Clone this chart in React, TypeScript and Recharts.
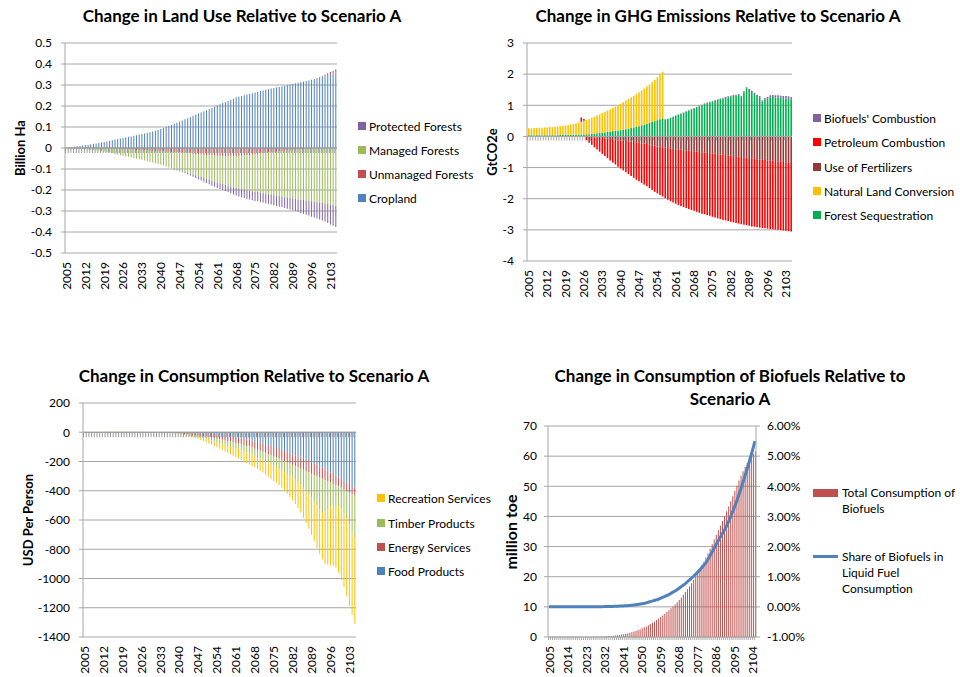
import React from "react";
import { ComposedChart, Bar, Line, XAxis, YAxis, CartesianGrid, ReferenceLine } from "recharts";

const FONT = "Lato, 'Open Sans', sans-serif";
const GRID = "#A6A6A6";

// 2005 .. 2105, one bar per year
const years = Array.from({ length: 101 }, (_, i) => 2005 + i);

// ---- Land use (billion ha)
const cropland = [
  0.000, 0.002, 0.004, 0.006, 0.008, 0.010, 0.012, 0.014, 0.016, 0.018,
  0.020, 0.022, 0.024, 0.026, 0.028, 0.031, 0.034, 0.037, 0.040, 0.042,
  0.045, 0.048, 0.050, 0.053, 0.055, 0.058, 0.061, 0.064, 0.066, 0.069,
  0.072, 0.075, 0.079, 0.082, 0.086, 0.090, 0.095, 0.100, 0.105, 0.110,
  0.115, 0.120, 0.126, 0.131, 0.137, 0.142, 0.148, 0.153, 0.159, 0.164,
  0.170, 0.175, 0.180, 0.186, 0.191, 0.196, 0.202, 0.208, 0.214, 0.219,
  0.225, 0.230, 0.235, 0.240, 0.244, 0.248, 0.251, 0.255, 0.258, 0.261,
  0.264, 0.267, 0.271, 0.274, 0.277, 0.280, 0.283, 0.286, 0.288, 0.291,
  0.294, 0.297, 0.300, 0.302, 0.305, 0.308, 0.311, 0.314, 0.316, 0.319,
  0.322, 0.325, 0.329, 0.332, 0.336, 0.340, 0.344, 0.348, 0.352, 0.356,
  0.360,
];
const unmanaged = [
  0, 0, 0, 0, 0, 0, 0, 0, 0, 0,
  0, 0, 0, 0, 0, -0.001, -0.001, -0.002, -0.002, -0.003,
  -0.004, -0.005, -0.005, -0.006, -0.007, -0.008, -0.009, -0.009, -0.010, -0.011,
  -0.012, -0.013, -0.014, -0.014, -0.015, -0.016, -0.017, -0.018, -0.018, -0.019,
  -0.020, -0.021, -0.022, -0.023, -0.024, -0.025, -0.026, -0.027, -0.028, -0.030,
  -0.031, -0.032, -0.033, -0.034, -0.035, -0.036, -0.037, -0.037, -0.038, -0.038,
  -0.039, -0.039, -0.039, -0.038, -0.038, -0.037, -0.036, -0.035, -0.033, -0.032,
  -0.030, -0.029, -0.027, -0.026, -0.024, -0.022, -0.021, -0.019, -0.018, -0.016,
  -0.015, -0.013, -0.012, -0.010, -0.009, -0.008, -0.007, -0.006, -0.005, -0.004,
  -0.003, -0.002, -0.001, 0, 0.002, 0.004, 0.006, 0.008, 0.010, 0.012,
  0.015,
];
const managed = [
  0, -0.001, -0.002, -0.002, -0.003, -0.004, -0.005, -0.006, -0.007, -0.008,
  -0.010, -0.011, -0.013, -0.015, -0.017, -0.018, -0.021, -0.023, -0.026, -0.028,
  -0.030, -0.032, -0.035, -0.036, -0.038, -0.040, -0.042, -0.045, -0.046, -0.048,
  -0.050, -0.053, -0.055, -0.059, -0.061, -0.064, -0.067, -0.070, -0.074, -0.077,
  -0.080, -0.083, -0.085, -0.088, -0.090, -0.093, -0.096, -0.099, -0.102, -0.104,
  -0.107, -0.110, -0.114, -0.117, -0.121, -0.124, -0.127, -0.131, -0.134, -0.138,
  -0.141, -0.144, -0.148, -0.152, -0.155, -0.159, -0.162, -0.166, -0.170, -0.174,
  -0.178, -0.181, -0.186, -0.189, -0.194, -0.198, -0.201, -0.206, -0.209, -0.214,
  -0.217, -0.221, -0.224, -0.228, -0.231, -0.234, -0.237, -0.240, -0.243, -0.246,
  -0.249, -0.252, -0.255, -0.258, -0.260, -0.262, -0.264, -0.267, -0.270, -0.272,
  -0.275,
];
const protectedForests = [
  0, 0, 0, 0, 0, 0, 0, 0, 0, 0,
  0, 0, 0, 0, 0, 0, 0, 0, 0, 0,
  0, 0, 0, 0, 0, 0, 0, 0, 0, 0,
  0, 0, 0, 0, 0, 0, 0, 0, -0.001, -0.001,
  -0.002, -0.003, -0.004, -0.005, -0.006, -0.007, -0.009, -0.011, -0.013, -0.015,
  -0.017, -0.019, -0.020, -0.022, -0.024, -0.025, -0.026, -0.027, -0.028, -0.029,
  -0.030, -0.032, -0.034, -0.036, -0.038, -0.039, -0.040, -0.041, -0.042, -0.043,
  -0.044, -0.044, -0.045, -0.045, -0.046, -0.046, -0.047, -0.048, -0.049, -0.050,
  -0.050, -0.052, -0.053, -0.055, -0.056, -0.058, -0.060, -0.063, -0.065, -0.068,
  -0.070, -0.073, -0.075, -0.078, -0.080, -0.083, -0.086, -0.090, -0.094, -0.097,
  -0.101,
];
const landTicks = [-0.5, -0.4, -0.3, -0.2, -0.1, 0, 0.1, 0.2, 0.3, 0.4, 0.5];

// ---- GHG emissions (GtCO2e)
const forestSeq = [
  0.04, 0.04, 0.04, 0.04, 0.04, 0.04, 0.04, 0.04, 0.04, 0.04,
  0.04, 0.04, 0.05, 0.05, 0.05, 0.05, 0.05, 0.05, 0.05, 0.06,
  0.06, 0.06, 0.07, 0.07, 0.08, 0.09, 0.10, 0.11, 0.12, 0.13,
  0.15, 0.16, 0.17, 0.18, 0.19, 0.20, 0.22, 0.23, 0.25, 0.27,
  0.29, 0.31, 0.33, 0.36, 0.38, 0.41, 0.43, 0.46, 0.49, 0.52,
  0.55, 0.58, 0.55, 0.57, 0.60, 0.63, 0.67, 0.70, 0.73, 0.76,
  0.80, 0.83, 0.87, 0.90, 0.94, 0.97, 1.00, 1.04, 1.07, 1.09,
  1.12, 1.15, 1.17, 1.20, 1.22, 1.24, 1.26, 1.28, 1.30, 1.31,
  1.33, 1.27, 1.42, 1.55, 1.49, 1.43, 1.36, 1.30, 1.26, 1.12,
  1.18, 1.22, 1.26, 1.27, 1.26, 1.25, 1.24, 1.23, 1.22, 1.21,
  1.18,
];
const landConversion = [
  0.22, 0.22, 0.23, 0.23, 0.24, 0.24, 0.25, 0.25, 0.26, 0.26,
  0.27, 0.28, 0.28, 0.29, 0.30, 0.31, 0.33, 0.35, 0.37, 0.38,
  0.41, 0.44, 0.46, 0.49, 0.52, 0.54, 0.57, 0.60, 0.63, 0.66,
  0.68, 0.71, 0.75, 0.78, 0.82, 0.85, 0.88, 0.92, 0.95, 0.98,
  1.01, 1.05, 1.09, 1.12, 1.16, 1.19, 1.24, 1.29, 1.33, 1.38,
  1.43, 1.50, 0, 0, 0, 0, 0, 0, 0, 0,
  0, 0, 0, 0, 0, 0, 0, 0, 0, 0,
  0, 0, 0, 0, 0, 0, 0, 0, 0, 0,
  0, 0, 0, 0, 0, 0, 0, 0, 0, 0,
  0, 0, 0, 0, 0, 0, 0, 0, 0, 0,
  0,
];
const fertilizers = [
  0, 0, 0, 0, 0, 0, 0, 0, 0, 0,
  0, 0, 0, 0, 0, 0, 0, 0, 0, 0,
  0, 0, -0.01, -0.02, -0.02, -0.03, -0.04, -0.05, -0.05, -0.06,
  -0.07, -0.08, -0.09, -0.10, -0.12, -0.13, -0.14, -0.15, -0.16, -0.17,
  -0.18, -0.19, -0.20, -0.22, -0.23, -0.24, -0.26, -0.28, -0.30, -0.32,
  -0.33, -0.35, -0.36, -0.37, -0.39, -0.40, -0.41, -0.42, -0.43, -0.44,
  -0.45, -0.46, -0.47, -0.48, -0.49, -0.50, -0.51, -0.52, -0.53, -0.54,
  -0.55, -0.56, -0.57, -0.58, -0.59, -0.60, -0.61, -0.62, -0.63, -0.64,
  -0.65, -0.66, -0.67, -0.68, -0.70, -0.71, -0.72, -0.73, -0.74, -0.75,
  -0.76, -0.77, -0.78, -0.78, -0.79, -0.80, -0.81, -0.82, -0.83, -0.84,
  -0.85,
];
const petroleum = [
  0, 0, 0, 0, 0, 0, 0, 0, 0, 0,
  0, 0, 0, 0, 0, 0, 0, 0, 0, 0,
  0.14, 0.06, -0.11, -0.18, -0.25, -0.32, -0.38, -0.44, -0.51, -0.57,
  -0.63, -0.69, -0.75, -0.80, -0.85, -0.90, -0.95, -1.00, -1.05, -1.10,
  -1.15, -1.20, -1.24, -1.28, -1.32, -1.36, -1.40, -1.44, -1.48, -1.51,
  -1.55, -1.58, -1.62, -1.66, -1.69, -1.72, -1.75, -1.78, -1.80, -1.83,
  -1.85, -1.87, -1.89, -1.91, -1.93, -1.95, -1.97, -1.98, -2.00, -2.01,
  -2.03, -2.04, -2.06, -2.07, -2.09, -2.10, -2.11, -2.12, -2.13, -2.14,
  -2.15, -2.16, -2.17, -2.17, -2.17, -2.18, -2.18, -2.18, -2.19, -2.19,
  -2.19, -2.19, -2.19, -2.20, -2.20, -2.20, -2.20, -2.20, -2.20, -2.20,
  -2.20,
];
const biofuelCombustion = [
  0, 0, 0, 0, 0, 0, 0, 0, 0, 0,
  0, 0, 0, 0, 0, 0, 0, 0, 0, 0,
  0, 0, 0, 0, 0, 0, 0, 0, 0, 0,
  0, 0, 0, 0, 0, 0, 0, 0, 0, 0,
  0, 0, 0, 0, 0, 0, 0, 0, 0, 0,
  0, 0, 0, 0, 0, 0, 0.01, 0.01, 0.01, 0.01,
  0.01, 0.01, 0.01, 0.01, 0.01, 0.02, 0.02, 0.02, 0.02, 0.02,
  0.02, 0.02, 0.02, 0.02, 0.02, 0.03, 0.03, 0.03, 0.03, 0.03,
  0.03, 0.03, 0.03, 0.03, 0.03, 0.04, 0.04, 0.04, 0.04, 0.04,
  0.05, 0.05, 0.06, 0.06, 0.06, 0.07, 0.07, 0.07, 0.08, 0.08,
  0.08,
];
const ghgTicks = [-4, -3, -2, -1, 0, 1, 2, 3];

// ---- Consumption (USD per person)
const food = [
  0, 0, 0, 0, 0, 0, 0, 0, 0, 0,
  0, 0, 0, 0, 0, 0, 0, 0, 0, 0,
  0, 0, 0, 0, 0, 0, 0, 0, 0, 0,
  -1, -1, -1, -2, -2, -3, -3, -4, -4, -5,
  -6, -7, -8, -9, -11, -12, -14, -16, -18, -20,
  -22, -24, -26, -28, -30, -33, -36, -39, -42, -45,
  -49, -52, -57, -62, -67, -72, -77, -82, -88, -95,
  -101, -108, -114, -121, -129, -137, -144, -152, -160, -167,
  -175, -182, -190, -197, -205, -212, -222, -233, -243, -254,
  -264, -275, -286, -298, -309, -320, -333, -346, -360, -369,
  -378,
];
const energy = [
  0, 0, 0, 0, 0, 0, 0, 0, 0, 0,
  0, 0, 0, 0, 0, 0, 0, 0, 0, 0,
  0, 0, 0, 0, 0, 0, 0, 0, 0, 0,
  -1, -2, -2, -3, -4, -5, -6, -8, -9, -11,
  -12, -13, -14, -16, -17, -18, -20, -21, -23, -25,
  -26, -28, -30, -32, -33, -35, -37, -39, -41, -43,
  -45, -46, -48, -50, -52, -54, -56, -58, -60, -61,
  -63, -65, -66, -68, -69, -70, -71, -72, -72, -73,
  -74, -75, -76, -78, -79, -80, -78, -77, -75, -73,
  -72, -70, -67, -65, -62, -60, -58, -56, -54, -53,
  -51,
];
const timber = [
  0, 0, 0, 0, 0, 0, 0, 0, 0, 0,
  0, 0, 0, 0, 0, 0, 0, 0, 0, 0,
  0, 0, 0, 0, 0, 0, 0, 0, 0, 0,
  -1, -1, -2, -2, -2, -2, -3, -4, -4, -5,
  -7, -9, -11, -12, -13, -15, -17, -20, -23, -24,
  -26, -27, -28, -29, -32, -32, -34, -36, -39, -41,
  -43, -46, -47, -49, -50, -52, -53, -55, -57, -60,
  -62, -64, -67, -69, -73, -77, -83, -87, -92, -98,
  -109, -122, -133, -145, -163, -181, -200, -215, -232, -213,
  -189, -170, -152, -137, -134, -140, -159, -188, -216, -253,
  -296,
];
const recreation = [
  0, 0, 0, 0, 0, 0, 0, 0, 4, 4,
  4, 4, 4, 4, 4, 4, 4, 4, 4, 4,
  4, 4, 0, 0, 0, 0, 0, 0, 0, 0,
  0, 0, 0, -1, -1, -2, -3, -4, -5, -7,
  -8, -9, -12, -16, -19, -23, -26, -29, -31, -34,
  -37, -41, -46, -51, -55, -60, -63, -66, -68, -71,
  -73, -76, -78, -79, -82, -85, -89, -95, -100, -104,
  -107, -109, -113, -122, -129, -136, -145, -155, -166, -182,
  -192, -206, -221, -240, -253, -272, -290, -305, -320, -360,
  -380, -395, -410, -425, -455, -490, -510, -530, -560, -575,
  -585,
];
const consTicks = [-1400, -1200, -1000, -800, -600, -400, -200, 0, 200];

// ---- Biofuels (million toe, share %)
const biofuelUse = [
  0, 0, 0, 0, 0, 0, 0, 0, 0, 0,
  0, 0, 0, 0, 0, 0, 0, 0, 0, 0,
  0, 0, 0, 0, 0, 0.1, 0.1, 0.2, 0.2, 0.3,
  0.3, 0.4, 0.5, 0.6, 0.7, 0.8, 0.9, 1.0, 1.2, 1.4,
  1.6, 1.8, 2.0, 2.3, 2.6, 2.9, 3.2, 3.5, 3.9, 4.3,
  4.7, 5.1, 5.6, 6.1, 6.6, 7.1, 7.7, 8.3, 8.9, 9.5,
  10.1, 10.8, 11.5, 12.3, 13.1, 14.0, 14.9, 15.8, 16.8, 17.8,
  18.9, 20.0, 21.2, 22.4, 23.7, 25.0, 26.4, 27.8, 29.3, 30.8,
  32.4, 33.9, 35.4, 36.9, 38.5, 40.1, 41.7, 43.3, 45.0, 46.7,
  48.4, 50.2, 51.9, 53.5, 55.0, 56.4, 57.7, 58.9, 59.9, 60.8,
  61.5,
];
const biofuelShare = [
  0, 0, 0, 0, 0, 0, 0, 0, 0, 0,
  0, 0, 0, 0, 0, 0, 0, 0, 0, 0,
  0, 0, 0, 0, 0, 0.005, 0.005, 0.01, 0.01, 0.01,
  0.01, 0.015, 0.02, 0.02, 0.025, 0.03, 0.03, 0.035, 0.04, 0.045,
  0.05, 0.06, 0.07, 0.08, 0.09, 0.10, 0.11, 0.13, 0.15, 0.17,
  0.19, 0.21, 0.23, 0.25, 0.28, 0.31, 0.34, 0.37, 0.40, 0.44,
  0.48, 0.52, 0.56, 0.61, 0.66, 0.71, 0.76, 0.82, 0.88, 0.94,
  1.00, 1.07, 1.14, 1.21, 1.29, 1.37, 1.45, 1.56, 1.67, 1.79,
  1.92, 2.05, 2.17, 2.29, 2.41, 2.53, 2.65, 2.80, 2.96, 3.13,
  3.30, 3.48, 3.68, 3.88, 4.09, 4.31, 4.53, 4.76, 5.00, 5.25,
  5.50,
];
const toeTicks = [0, 10, 20, 30, 40, 50, 60, 70];
const shareTicks = [-1, 0, 1, 2, 3, 4, 5, 6];

const landData = years.map((year, i) => ({
  year, cropland: cropland[i], unmanaged: unmanaged[i], managed: managed[i], protectedForests: protectedForests[i],
}));
const ghgData = years.map((year, i) => ({
  year, forestSeq: forestSeq[i], landConversion: landConversion[i], fertilizers: fertilizers[i],
  petroleum: petroleum[i], biofuelCombustion: biofuelCombustion[i],
}));
const consData = years.map((year, i) => ({
  year, food: food[i], energy: energy[i], timber: timber[i], recreation: recreation[i],
}));
const bioData = years.map((year, i) => ({ year, use: biofuelUse[i], share: biofuelShare[i] }));

// rotated year labels under the plot
// eslint-disable-next-line @typescript-eslint/no-explicit-any
const YearTick = (props: any) => {
  const { x, y, payload } = props;
  return (
    <text transform={`translate(${x + 4.5},${y + 9}) rotate(-90)`} textAnchor="end" fontSize={12} fill="#000" fontFamily={FONT}>
      {payload.value}
    </text>
  );
};

// horizontal category axis with Excel style tick stubs at every category
const zeroAxis = (count: number, drop: number, color: string) =>
  // eslint-disable-next-line @typescript-eslint/no-explicit-any
  (props: any) => {
    const { x1, x2, y1 } = props;
    const bw = Math.abs(x2 - x1) / count;
    const left = Math.min(x1, x2);
    const right = Math.max(x1, x2);
    return (
      <g>
        <line x1={left} x2={right} y1={y1} y2={y1} stroke={color} strokeWidth={1} />
        <line x1={left} x2={right} y1={y1 + drop / 2} y2={y1 + drop / 2} stroke={color} strokeWidth={drop} strokeDasharray={`1 ${bw - 1}`} />
      </g>
    );
  };

const tickStyle = { fill: "#000", fontSize: 12, fontFamily: FONT };

function Title({ cx, top, lines }: { cx: number; top: number; lines: string[] }) {
  return (
    <div style={{ position: "absolute", left: cx - 250, width: 500, top, textAlign: "center", fontWeight: 700, fontSize: 17, lineHeight: "23px", color: "#000" }}>
      {lines.map((l) => (
        <div key={l}>{l}</div>
      ))}
    </div>
  );
}

function AxisTitle({ cx, cy, text, size = 13 }: { cx: number; cy: number; text: string; size?: number }) {
  return (
    <div style={{ position: "absolute", left: cx, top: cy, transform: "translate(-50%,-50%) rotate(-90deg)", fontWeight: 700, fontSize: size, whiteSpace: "nowrap", color: "#000" }}>
      {text}
    </div>
  );
}

function Legend({ x, rows, items }: { x: number; rows: number[]; items: { label: string; color: string }[] }) {
  return (
    <>
      {items.map((it, i) => (
        <div key={it.label} style={{ position: "absolute", left: x, top: rows[i] - 8, height: 16, display: "flex", alignItems: "center", fontSize: 12, whiteSpace: "nowrap", color: "#000" }}>
          <span style={{ display: "inline-block", width: 8, height: 8, background: it.color, marginRight: 3 }} />
          {it.label}
        </div>
      ))}
    </>
  );
}

const box = (left: number, top: number): React.CSSProperties => ({ position: "absolute", left, top });

export default function App() {
  return (
    <div style={{ position: "absolute", left: 0, top: 0, width: 960, height: 677, background: "#fff", fontFamily: FONT, overflow: "hidden" }}>
      {/* Land use */}
      <Title cx={242} top={4} lines={["Change in Land Use Relative to Scenario A"]} />
      <AxisTitle cx={20} cy={148} text="Billion Ha" />
      <div style={box(0, 0)}>
        <ComposedChart width={345} height={300} data={landData} margin={{ top: 43, right: 8, left: 35, bottom: 7 }} stackOffset="sign">
          <CartesianGrid vertical={false} stroke={GRID} />
          <XAxis dataKey="year" interval={6} tick={<YearTick />} tickLine={false} axisLine={false} tickSize={0} tickMargin={0} height={40} />
          <YAxis type="number" domain={[-0.5, 0.5]} ticks={landTicks} interval={0} width={30} stroke={GRID} tickSize={4} tickMargin={9} tick={tickStyle} tickFormatter={(v) => String(v)} />
          <Bar dataKey="cropland" stackId="a" fill="#4F81BD" barSize={1} isAnimationActive={false} />
          <Bar dataKey="unmanaged" stackId="a" fill="#C0504D" barSize={1} isAnimationActive={false} />
          <Bar dataKey="managed" stackId="a" fill="#9BBB59" barSize={1} isAnimationActive={false} />
          <Bar dataKey="protectedForests" stackId="a" fill="#8064A2" barSize={1} isAnimationActive={false} />
          <ReferenceLine y={0} shape={zeroAxis(101, 5, "#999999")} />
        </ComposedChart>
      </div>
      <Legend
        x={358}
        rows={[126, 150, 174, 198]}
        items={[
          { label: "Protected Forests", color: "#8064A2" },
          { label: "Managed Forests", color: "#9BBB59" },
          { label: "Unmanaged Forests", color: "#C0504D" },
          { label: "Cropland", color: "#4F81BD" },
        ]}
      />

      {/* GHG */}
      <Title cx={718} top={4} lines={["Change in GHG Emissions Relative to Scenario A"]} />
      <AxisTitle cx={492} cy={152} text="GtCO2e" />
      <div style={box(480, 0)}>
        <ComposedChart width={320} height={300} data={ghgData} margin={{ top: 43, right: 8, left: 17, bottom: 7 }} stackOffset="sign">
          <CartesianGrid vertical={false} stroke={GRID} />
          <XAxis dataKey="year" interval={6} tick={<YearTick />} tickLine={false} axisLine={false} tickSize={0} tickMargin={0} height={32} />
          <YAxis type="number" domain={[-4, 3]} ticks={ghgTicks} interval={0} width={30} stroke={GRID} tickSize={4} tickMargin={9} tick={tickStyle} />
          <Bar dataKey="forestSeq" stackId="a" fill="#00B050" barSize={1.6} isAnimationActive={false} />
          <Bar dataKey="landConversion" stackId="a" fill="#FFC000" barSize={1.6} isAnimationActive={false} />
          <Bar dataKey="fertilizers" stackId="a" fill="#953735" barSize={1.6} isAnimationActive={false} />
          <Bar dataKey="petroleum" stackId="a" fill="#FF0000" barSize={1.6} isAnimationActive={false} />
          <Bar dataKey="biofuelCombustion" stackId="a" fill="#8064A2" barSize={1.6} isAnimationActive={false} />
          <ReferenceLine y={0} shape={zeroAxis(101, 4, "#AAAAAA")} />
        </ComposedChart>
      </div>
      <Legend
        x={813}
        rows={[118, 142, 167, 191, 215]}
        items={[
          { label: "Biofuels' Combustion", color: "#8064A2" },
          { label: "Petroleum Combustion", color: "#FF0000" },
          { label: "Use of Fertilizers", color: "#953735" },
          { label: "Natural Land Conversion", color: "#FFC000" },
          { label: "Forest Sequestration", color: "#00B050" },
        ]}
      />

      {/* Consumption */}
      <Title cx={254} top={364} lines={["Change in Consumption Relative to Scenario A"]} />
      <AxisTitle cx={28} cy={520} text="USD Per Person" />
      <div style={box(0, 340)}>
        <ComposedChart width={365} height={337} data={consData} margin={{ top: 63, right: 9, left: 53, bottom: 5 }} stackOffset="sign">
          <CartesianGrid vertical={false} stroke={GRID} />
          <XAxis dataKey="year" interval={6} tick={<YearTick />} tickLine={false} axisLine={false} tickSize={0} tickMargin={0} height={35} />
          <YAxis type="number" domain={[-1400, 200]} ticks={consTicks} interval={0} width={30} stroke={GRID} tickSize={4} tickMargin={9} tick={tickStyle} />
          <Bar dataKey="food" stackId="a" fill="#4F81BD" barSize={1} isAnimationActive={false} />
          <Bar dataKey="energy" stackId="a" fill="#C0504D" barSize={1} isAnimationActive={false} />
          <Bar dataKey="timber" stackId="a" fill="#9BBB59" barSize={1} isAnimationActive={false} />
          <Bar dataKey="recreation" stackId="a" fill="#FFC000" barSize={1} isAnimationActive={false} />
          <ReferenceLine y={0} shape={zeroAxis(101, 5, "#999999")} />
        </ComposedChart>
      </div>
      <Legend
        x={377}
        rows={[498, 523, 547, 571]}
        items={[
          { label: "Recreation Services", color: "#FFC000" },
          { label: "Timber Products", color: "#9BBB59" },
          { label: "Energy Services", color: "#C0504D" },
          { label: "Food Products", color: "#4F81BD" },
        ]}
      />

      {/* Biofuels */}
      <Title cx={730} top={364} lines={["Change in Consumption of Biofuels Relative to", "Scenario A"]} />
      <AxisTitle cx={510} cy={532} text="million toe" size={16} />
      <div style={box(480, 340)}>
        <ComposedChart width={330} height={337} data={bioData} margin={{ top: 86, right: 14, left: 38, bottom: 5 }}>
          <CartesianGrid vertical={false} stroke={GRID} yAxisId="left" />
          <XAxis dataKey="year" interval={8} tick={<YearTick />} tickLine={false} axisLine={false} tickSize={0} tickMargin={0} height={35} />
          <YAxis yAxisId="left" type="number" domain={[0, 70]} ticks={toeTicks} interval={0} width={30} stroke={GRID} tickSize={4} tickMargin={7} tick={tickStyle} />
          <YAxis yAxisId="right" orientation="right" type="number" domain={[-1, 6]} ticks={shareTicks} interval={0} width={40} stroke={GRID} tickSize={4} tickMargin={7} tick={tickStyle} tickFormatter={(v) => `${Number(v).toFixed(2)}%`} />
          <Bar yAxisId="left" dataKey="use" fill="#C0504D" barSize={1} isAnimationActive={false} />
          <ReferenceLine yAxisId="left" y={0} shape={zeroAxis(101, 3, "#AAAAAA")} />
          <Line yAxisId="right" type="monotone" dataKey="share" stroke="#4F81BD" strokeWidth={3} dot={false} isAnimationActive={false} />
        </ComposedChart>
      </div>
      <div style={{ position: "absolute", left: 813, top: 489, width: 25, height: 8, background: "#C0504D" }} />
      <div style={{ position: "absolute", left: 842, top: 485, fontSize: 12, lineHeight: "16px", color: "#000" }}>
        Total Consumption of
        <br />
        Biofuels
      </div>
      <div style={{ position: "absolute", left: 813, top: 555, width: 25, height: 3, background: "#4F81BD" }} />
      <div style={{ position: "absolute", left: 842, top: 549, fontSize: 12, lineHeight: "16px", color: "#000" }}>
        Share of Biofuels in
        <br />
        Liquid Fuel
        <br />
        Consumption
      </div>
    </div>
  );
}
